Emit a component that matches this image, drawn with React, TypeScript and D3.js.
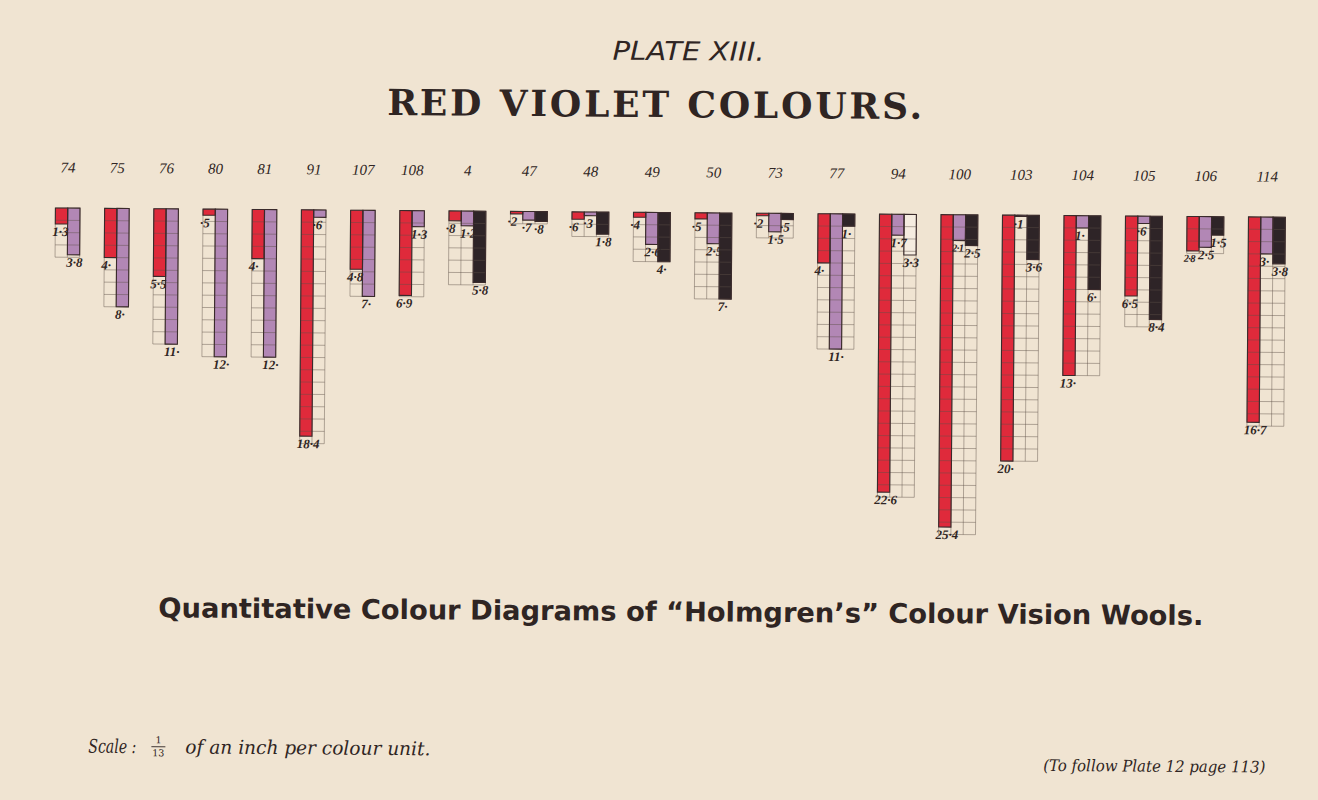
import React from "react";
import * as d3 from "d3";

// ---- data read from the plate ----
const categories = ["74", "75", "76", "80", "81", "91", "107", "108", "4", "47", "48", "49", "50", "73", "77", "94", "100", "103", "104", "105", "106", "114"];
const redValues = [1.3, 4, 5.5, 0.5, 4, 18.4, 4.8, 6.9, 0.8, 0.2, 0.6, 0.4, 0.5, 0.2, 4, 22.6, 25.4, 20, 13, 6.5, 2.8, 16.7];
const violetValues = [3.8, 8, 11, 12, 12, 0.6, 7, 1.3, 1.2, 0.7, 0.3, 2.6, 2.5, 1.5, 11, 1.7, 2.1, 0.1, 1, 0.6, 2.5, 3];
const blackValues: (number | null)[] = [null, null, null, null, null, null, null, null, 5.8, 0.8, 1.8, 4, 7, 0.5, 1, 3.3, 2.5, 3.6, 6, 8.4, 1.5, 3.8];
const hollowBlack = ["94"];

const W = 1318;
const H = 800;
const CELL = 12.3;
const GAP = 24.6;
const X0 = 54;
const TOP = 212.5;

const BG = "#f0e4d2";
const RED = "#df2a3b";
const VIOLET = "#b287b5";
const BLACK = "#2e2427";
const INK = "#2f2523";
const LABEL_FONT = "Liberation Serif";

function fmt(v: number): string {
  if (v < 1) return "·" + String(Math.round(v * 10));
  if (Number.isInteger(v)) return v + "·";
  return String(v).replace(".", "·");
}

export default function App() {
  const items = categories.map((c, i) => {
    const vals: { v: number; color: string; hollow?: boolean }[] = [
      { v: redValues[i], color: RED },
      { v: violetValues[i], color: VIOLET },
    ];
    const b = blackValues[i];
    if (b !== null) vals.push({ v: b, color: BLACK, hollow: hollowBlack.includes(c) });
    return { c, vals };
  });
  const widths = items.map((it) => it.vals.length * CELL);
  const offsets = [0, ...Array.from(d3.cumsum(widths.map((w) => w + GAP)))];
  const maxAll = d3.max(items, (it) => d3.max(it.vals, (d) => d.v)) as number;
  const y = d3.scaleLinear().domain([0, Math.ceil(maxAll)]).range([TOP, TOP + Math.ceil(maxAll) * CELL]);
  const x = d3.scaleLinear().domain([0, 1]).range([X0, X0 + 1]);

  return (
    <svg width={W} height={H} style={{ position: "absolute", left: 0, top: 0, background: BG }}>
      <rect x={0} y={0} width={W} height={H} fill={BG} />
      <g transform="rotate(0.43, 659, 400)">
        <text x={686} y={60} textAnchor="middle" fontFamily="DejaVu Sans" fontStyle="italic" fontWeight={300} fontSize={26} fill={INK} textLength={152} lengthAdjust="spacingAndGlyphs">PLATE XIII.</text>
        <text x={385} y={117} fontFamily="DejaVu Serif" fontWeight={700} fontSize={36} fill={INK} textLength={535} lengthAdjust="spacing">RED VIOLET COLOURS.</text>

        {items.map((it, i) => {
          const left = x(offsets[i]);
          const ncols = it.vals.length;
          const maxV = d3.max(it.vals, (d) => d.v) as number;
          const nrows = Math.max(1, Math.ceil(maxV - 1e-9));
          const gw = ncols * CELL;
          const bottom = y(nrows);
          return (
            <g key={it.c}>
              <text x={left + gw / 2} y={177} textAnchor="middle" fontFamily={LABEL_FONT} fontStyle="italic" fontSize={15} fill={INK}>{it.c}</text>
              {it.vals.map((d, j) => (
                <rect key={"b" + j} x={left + j * CELL} y={y(0)} width={CELL} height={y(d.v) - y(0)} fill={d.hollow ? "#f5ece0" : d.color} />
              ))}
              {d3.range(nrows + 1).map((r) => (
                <line key={"h" + r} x1={left} x2={left + gw} y1={y(r)} y2={y(r)} stroke="#5e5048" strokeOpacity={0.5} strokeWidth={0.9} />
              ))}
              {d3.range(ncols + 1).map((cI) => (
                <line key={"v" + cI} x1={left + cI * CELL} x2={left + cI * CELL} y1={y(0)} y2={bottom} stroke="#5e5048" strokeOpacity={0.5} strokeWidth={0.9} />
              ))}
              {it.vals.map((d, j) => (
                <rect key={"o" + j} x={left + j * CELL} y={y(0)} width={CELL} height={y(d.v) - y(0)} fill="none" stroke="#3a2a2b" strokeWidth={1.1} />
              ))}
              {it.vals.map((d, j) => {
                const next = it.vals[j + 1];
                const label = fmt(d.v);
                const crowded = next !== undefined && label.length >= 3 && Math.abs(y(next.v) - y(d.v)) < 11;
                const lx = left + j * CELL - (j === 0 ? 3 : 1);
                return (
                  <text key={"t" + j} x={lx} y={y(d.v) + (crowded ? 11 : 12)} fontFamily={LABEL_FONT} fontStyle="italic"
                    fontSize={crowded ? 10.5 : 13} letterSpacing={crowded ? -0.6 : 0} fontWeight={700} fill={INK}>{label}</text>
                );
              })}
            </g>
          );
        })}

        <text x={160} y={621} fontFamily="DejaVu Sans" fontWeight={700} fontSize={27} fill={INK} textLength={1045} lengthAdjust="spacingAndGlyphs">Quantitative Colour Diagrams of “Holmgren’s” Colour Vision Wools.</text>

        <g fill={INK} fontFamily="DejaVu Serif" fontStyle="italic">
          <text x={91} y={757} fontSize={19} textLength={48} lengthAdjust="spacingAndGlyphs">Scale :</text>
          <text x={161} y={747} fontSize={9.5} textAnchor="middle" fontStyle="normal">1</text>
          <line x1={154} x2={168} y1={750.5} y2={750.5} stroke={INK} strokeWidth={0.9} />
          <text x={161} y={760} fontSize={9.5} textAnchor="middle" fontStyle="normal">13</text>
          <text x={188} y={757} fontSize={19} textLength={245} lengthAdjust="spacingAndGlyphs">of an inch per colour unit.</text>
          <text x={1046} y={768} fontSize={16} textLength={222} lengthAdjust="spacingAndGlyphs">(To follow Plate 12 page 113)</text>
        </g>
      </g>
    </svg>
  );
}
